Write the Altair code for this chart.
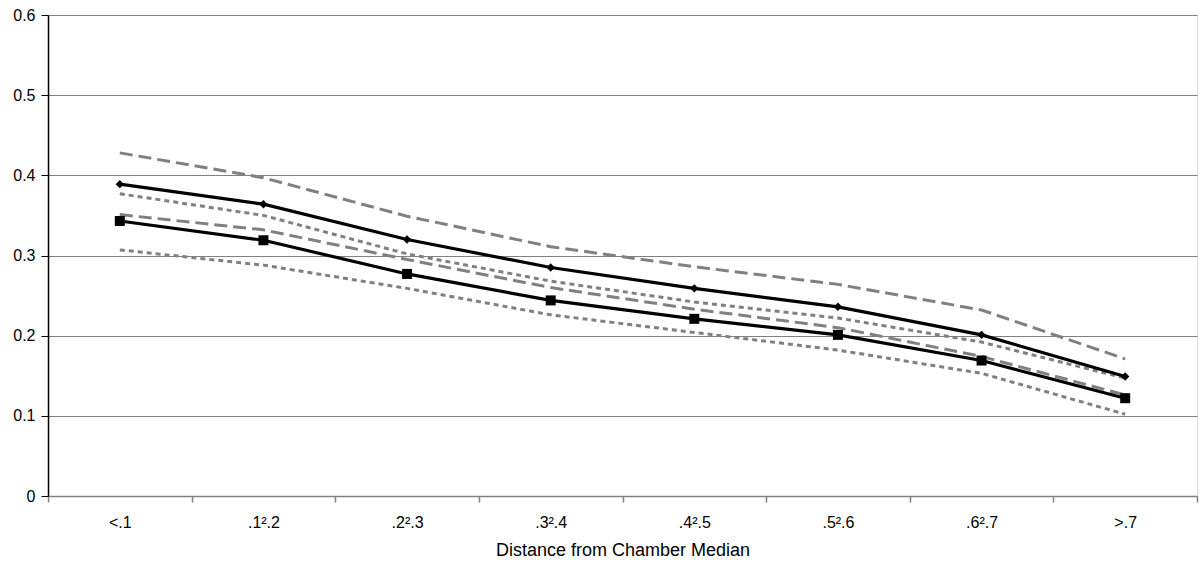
import altair as alt
import pandas as pd

categories = ["<.1", ".1².2", ".2².3", ".3².4", ".4².5", ".5².6", ".6².7", ">.7"]
diamond = [0.389, 0.364, 0.320, 0.285, 0.259, 0.236, 0.201, 0.149]
square = [0.343, 0.319, 0.277, 0.244, 0.221, 0.201, 0.169, 0.122]
diamond_hi = [0.428, 0.397, 0.349, 0.311, 0.286, 0.264, 0.232, 0.171]
diamond_lo = [0.351, 0.332, 0.295, 0.260, 0.233, 0.210, 0.174, 0.126]
square_hi = [0.377, 0.350, 0.302, 0.268, 0.242, 0.222, 0.192, 0.147]
square_lo = [0.307, 0.288, 0.259, 0.226, 0.204, 0.182, 0.153, 0.102]
y_ticks = [0, 0.1, 0.2, 0.3, 0.4, 0.5, 0.6]

def frame(vals):
    return pd.DataFrame({"cat": categories, "value": vals})

FONT = "Liberation Sans"

x_enc = alt.X(
    "cat:N",
    sort=categories,
    bandPosition=0.5,
    scale=alt.Scale(type="band", paddingInner=0, paddingOuter=0),
    axis=alt.Axis(
        title="Distance from Chamber Median",
        labelAngle=0,
        tickBand="extent",
        grid=False,
        domainColor="#808080",
        domainWidth=1.5,
        tickColor="#808080",
        tickWidth=1.5,
        tickSize=6,
        labelFont=FONT,
        labelFontSize=16,
        labelColor="black",
        labelPadding=12,
        titleFont=FONT,
        titleFontSize=18,
        titleFontWeight="normal",
        titleColor="black",
        titlePadding=11,
    ),
)
y_enc = alt.Y(
    "value:Q",
    scale=alt.Scale(domain=[0, 0.6], nice=False, zero=True),
    axis=alt.Axis(
        values=y_ticks,
        title=None,
        grid=True,
        gridColor="#808080",
        gridWidth=1.2,
        domainColor="black",
        domainWidth=1.5,
        tickColor="black",
        tickSize=7,
        labelPadding=6,
        labelFont=FONT,
        labelFontSize=16,
        labelColor="black",
        labelExpr="datum.value == 0 ? '0' : format(datum.value, '.1f')",
    ),
)

def gray_line(vals, dash):
    return alt.Chart(frame(vals)).mark_line(
        color="#808080", strokeWidth=3, strokeDash=dash, strokeCap="butt"
    ).encode(x=x_enc, y=y_enc)

def black_line(vals):
    return alt.Chart(frame(vals)).mark_line(color="black", strokeWidth=3.2).encode(x=x_enc, y=y_enc)

def markers(vals, shape, size):
    return alt.Chart(frame(vals)).mark_point(
        shape=shape, filled=True, size=size, color="black", opacity=1
    ).encode(x=x_enc, y=y_enc)

chart = alt.layer(
    gray_line(diamond_hi, [13, 6]),
    gray_line(diamond_lo, [13, 6]),
    gray_line(square_hi, [5, 4]),
    gray_line(square_lo, [5, 4]),
    black_line(diamond),
    black_line(square),
    markers(diamond, "diamond", 70),
    markers(square, "square", 100),
).properties(
    width=1149,
    height=481,
    autosize=alt.AutoSizeParams(type="none"),
    padding={"left": 48, "top": 15, "right": 4, "bottom": 66},
).configure_view(stroke=None).configure(background="white")

chart.save("out.html", embed_options={"renderer": "svg", "actions": False})
